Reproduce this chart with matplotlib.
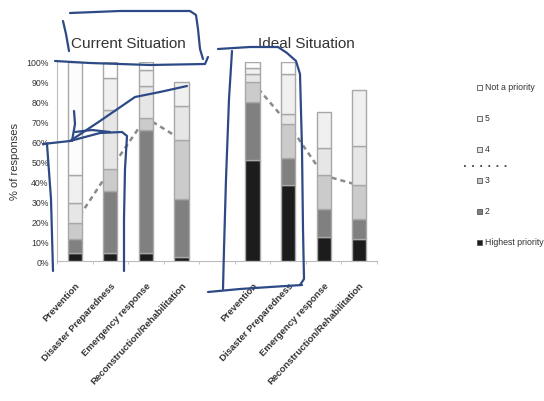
import numpy as np
import matplotlib.pyplot as plt
from matplotlib.patches import Rectangle
from matplotlib.lines import Line2D
from matplotlib import transforms

plt.rcParams['font.family'] = ['Liberation Sans', 'DejaVu Sans']

# --- data: % of responses per priority level ---
categories = ['Prevention', 'Disaster Preparedness', 'Emergency response',
              'Reconstruction/Rehabilitation']
levels = ['Highest priority', '2', '3', '4', '5', 'Not a priority']

# current situation
cur_highest = [4, 4, 4, 2]
cur_p2 = [7, 31, 62, 29]
cur_p3 = [8, 11, 6, 30]
cur_p4 = [10, 30, 16, 17]
cur_p5 = [14, 16, 8, 12]
cur_notp = [57, 8, 4, 0]

# ideal situation
ide_highest = [51, 38, 12, 11]
ide_p2 = [29, 14, 14, 10]
ide_p3 = [10, 17, 17, 17]
ide_p4 = [4, 5, 14, 20]
ide_p5 = [3, 20, 18, 28]
ide_notp = [3, 6, 0, 0]

fills = ['#1c1c1c', '#808080', '#cbcbcb', '#e6e6e6', '#f0f0f0', '#fcfcfc']
edge = '#a8a8a8'
W, H = 544, 402

fig = plt.figure(figsize=(W / 100, H / 100), dpi=100)
ax = fig.add_axes([57 / W, 1 - 262 / H, 320 / W, 199 / H])

groups = [
    (np.arange(4), [cur_highest, cur_p2, cur_p3, cur_p4, cur_p5, cur_notp]),
    (np.arange(4) + 5, [ide_highest, ide_p2, ide_p3, ide_p4, ide_p5, ide_notp]),
]

for xs, series in groups:
    bottom = np.zeros(4)
    for vals, fc in zip(series, fills):
        vals = np.array(vals, dtype=float)
        keep = vals > 0
        ax.bar(xs[keep], vals[keep], 0.4, bottom=bottom[keep], color=fc,
               edgecolor=edge, linewidth=1.0, zorder=3)
        bottom += vals
    # dashed line joining the top of the "3" segment
    top3 = np.sum(series[:3], axis=0)
    ax.plot(xs, top3, color='#8a8a8a', lw=1.8, ls=(0, (2, 1.6)), zorder=2)

ax.set_xlim(-0.5, 8.5)
ax.set_ylim(0, 100)
ax.set_yticks(np.arange(0, 101, 10))
ax.set_yticklabels([f'{v}%' for v in range(0, 101, 10)], fontsize=6.3, color='#333333')
ax.tick_params(axis='y', length=0, pad=6)

xticks = list(np.arange(4)) + list(np.arange(4) + 5)
ax.set_xticks(xticks)
ax.set_xticklabels(categories * 2, rotation=47, ha='right', rotation_mode='anchor',
                   fontsize=6.8, fontweight='bold', color='#333333')
ax.tick_params(axis='x', which='major', length=0, pad=14)
ax.set_xticks(np.arange(-0.5, 9, 1), minor=True)
ax.tick_params(axis='x', which='minor', length=2, color='#bbbbbb')

for side in ['top', 'right']:
    ax.spines[side].set_visible(False)
for side in ['left', 'bottom']:
    ax.spines[side].set_color('#bbbbbb')
    ax.spines[side].set_linewidth(0.8)

fig.text(15 / W, 1 - 162 / H, '% of responses', rotation=90, fontsize=8,
         ha='center', va='center', color='#333333')

trans = transforms.blended_transform_factory(ax.transData, ax.transAxes)
ax.text(1.5, 1.093, 'Current Situation', transform=trans, ha='center', va='center',
        fontsize=11, color='#333333')
ax.text(6.5, 1.093, 'Ideal Situation', transform=trans, ha='center', va='center',
        fontsize=11, color='#333333')

# legend, top entry first
def px(x, y):
    return x / W, 1 - y / H

row_y = 88
for name, fc in zip(levels[::-1], fills[::-1]):
    sx, sy = px(477, row_y + 2.5)
    fig.add_artist(Rectangle((sx, sy), 5 / W, 5 / H, transform=fig.transFigure,
                             facecolor=fc, edgecolor='#555555', lw=0.6))
    tx, ty = px(485, row_y)
    fig.text(tx, ty, name, fontsize=6.3, va='center', ha='left', color='#333333')
    if name == '4':
        lx0, ly = px(464, row_y + 17)
        lx1, _ = px(507, row_y + 17)
        fig.add_artist(Line2D([lx0, lx1], [ly, ly], transform=fig.transFigure,
                              color='#444444', lw=1.3, ls=(0, (1, 3.5))))
    row_y += 31

# blue pen markings drawn over the chart
pen_strokes = [
    [(70, 14), (120, 12), (190, 12), (196, 16), (198, 30), (200, 50), (203, 60)],
    [(63, 22), (66, 35), (69, 52)],
    [(55, 62), (90, 64), (150, 66), (205, 65), (208, 58)],
    [(43, 145), (70, 142), (100, 134), (122, 133), (127, 137), (125, 170),
     (124, 220), (124, 272)],
    [(47, 145), (51, 200), (53, 272)],
    [(70, 142), (100, 122), (135, 98), (160, 93), (187, 87)],
    [(74, 112), (75, 125), (72, 142)],
    [(75, 133), (92, 131), (110, 133)],
    [(218, 50), (250, 48), (278, 48), (287, 54), (296, 62), (300, 75),
     (302, 150), (303, 230), (304, 280), (300, 286)],
    [(208, 293), (240, 290), (270, 288), (302, 286)],
    [(232, 52), (229, 100), (226, 180), (224, 250), (223, 290)],
]
for stroke in pen_strokes:
    xs_, ys_ = zip(*[px(x, y) for x, y in stroke])
    fig.add_artist(Line2D(xs_, ys_, transform=fig.transFigure, color='#2d4a86',
                          lw=1.6, solid_capstyle='round', solid_joinstyle='round'))

fig.savefig('out.png', dpi=100)
